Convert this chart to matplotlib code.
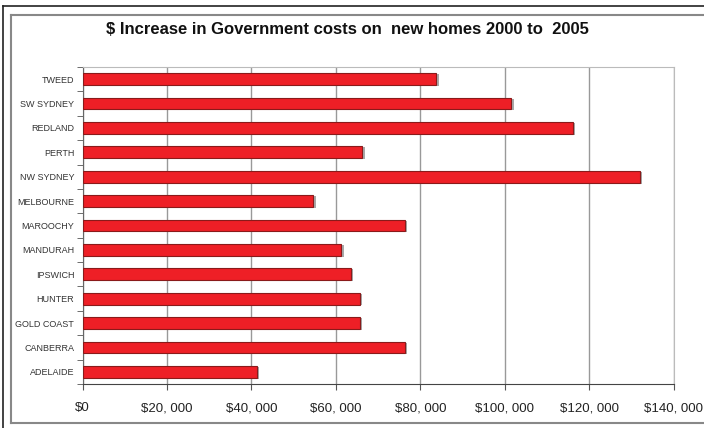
import matplotlib.pyplot as plt
from matplotlib.lines import Line2D
from matplotlib.ticker import FuncFormatter

# DATA (top to bottom as listed on the chart)
regions = ['TWEED', 'SW SYDNEY', 'REDLAND', 'PERTH', 'NW SYDNEY', 'MELBOURNE',
           'MAROOCHY', 'MANDURAH', 'IPSWICH', 'HUNTER', 'GOLD COAST',
           'CANBERRA', 'ADELAIDE']
increase = [83800, 101500, 116100, 66200, 132000, 54600,
            76300, 61300, 63500, 65600, 65600, 76300, 41300]
x_ticks = [0, 20000, 40000, 60000, 80000, 100000, 120000, 140000]

plt.rcParams['font.family'] = ['Liberation Sans', 'DejaVu Sans']

fig = plt.figure(figsize=(7.04, 4.28), dpi=100)
ax = fig.add_axes([82.5 / 704, 1 - 384 / 428, (673.7 - 82.5) / 704, (384 - 67) / 428])

ypos = list(range(len(regions)))[::-1]
# shadow then bar
ax.barh([y - 0.04 for y in ypos], increase, height=0.48, left=600,
        color='#a8a8a8', zorder=2)
ax.barh(ypos, increase, height=0.48, color='#ee1f26', edgecolor='#8a1a1a',
        linewidth=0.8, zorder=3)

ax.set_xlim(0, 140000)
ax.set_ylim(-0.5, len(regions) - 0.5)
ax.set_xticks(x_ticks)
ax.xaxis.set_major_formatter(FuncFormatter(lambda v, p: '${:,.0f}'.format(v).replace(',', ', ')))
ax.set_yticks(ypos)
ax.set_yticklabels(regions)
ax.set_yticks([y + 0.5 for y in range(-1, len(regions))], minor=True)
ax.tick_params(axis='y', which='major', length=0, labelsize=6.5, colors='#333333', pad=6)
ax.tick_params(axis='y', which='minor', length=4, color='#555555', direction='out')
ax.tick_params(axis='x', length=4, color='#555555', labelsize=9.5, pad=9, colors='#222222')

ax.grid(axis='x', color='#999999', linewidth=1, zorder=0)
ax.set_axisbelow(True)
for side in ['top', 'right']:
    ax.spines[side].set_color('#bbbbbb')
ax.spines['left'].set_color('#666666')
ax.spines['bottom'].set_color('#444444')

fig.text(347 / 704, 1 - 30 / 428, '$ Increase in Government costs on  new homes 2000 to  2005',
         ha='center', va='center', fontsize=12, fontweight='bold', color='#111111')

# outer frames
fig.add_artist(Line2D([3 / 704, 1], [1 - 6 / 428] * 2, color='#222222', lw=1.2))
fig.add_artist(Line2D([3 / 704] * 2, [0, 1 - 6 / 428], color='#222222', lw=1.2))
fig.add_artist(Line2D([11 / 704, 1], [1 - 15 / 428] * 2, color='#888888', lw=1.5))
fig.add_artist(Line2D([11 / 704, 1], [1 - 423 / 428] * 2, color='#888888', lw=1.5))
fig.add_artist(Line2D([11 / 704] * 2, [1 - 423 / 428, 1 - 15 / 428], color='#888888', lw=1.5))

fig.savefig('out.png', dpi=100)
